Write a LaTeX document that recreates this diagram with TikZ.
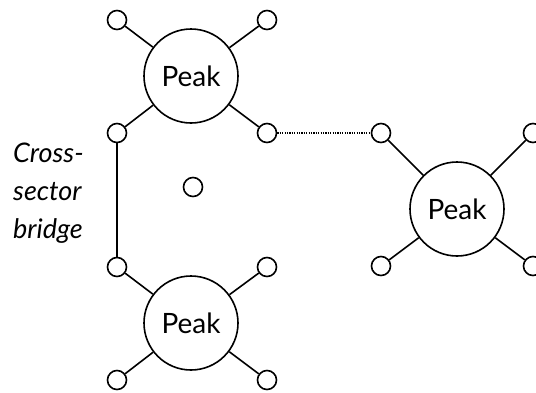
\documentclass[tikz,border=0pt]{standalone}
\usepackage{fontspec}
\setmainfont{Lato}
\begin{document}
\begin{tikzpicture}[x=1pt,y=-1pt,
  peak/.style={circle,draw,line width=1.6pt,minimum size=94pt,inner sep=0pt,
    font=\fontsize{28}{32}\selectfont},
  port/.style={circle,draw,line width=1.6pt,minimum size=19pt,inner sep=0pt},
  link/.style={line width=1.6pt},
  weak/.style={line width=1.2pt,dash pattern=on 1.2pt off 1.2pt},
  lbl/.style={align=left,inner sep=0pt,font=\fontsize{27}{38}\selectfont\itshape}]
\useasboundingbox (0,0) rectangle (536,392);
% peak A
\node[peak] (A) at (191,76) {Peak};
\node[port] (a1) at (117,20) {};
\node[port] (a2) at (267,20) {};
\node[port] (a3) at (117,133) {};
\node[port] (a4) at (267,133) {};
% peak B
\node[peak] (B) at (457,209) {Peak};
\node[port] (b1) at (381,133) {};
\node[port] (b2) at (533,133) {};
\node[port] (b3) at (381,266) {};
\node[port] (b4) at (533,266) {};
% peak C
\node[peak] (C) at (191,323) {Peak};
\node[port] (c1) at (117,267) {};
\node[port] (c2) at (267,267) {};
\node[port] (c3) at (117,380) {};
\node[port] (c4) at (267,380) {};
% isolated
\node[port] (iso) at (193,187) {};
% spokes
\foreach \p in {a1,a2,a3,a4} \draw[link] (\p) -- (A);
\foreach \p in {b1,b2,b3,b4} \draw[link] (\p) -- (B);
\foreach \p in {c1,c2,c3,c4} \draw[link] (\p) -- (C);
% bridges
\draw[link] (a3.south) -- (c1.north);
\draw[weak] (a4) -- (b1);
\node[lbl,anchor=west] (lab) at (13,193) {Cross-\\sector\\bridge};
\end{tikzpicture}
\end{document}
